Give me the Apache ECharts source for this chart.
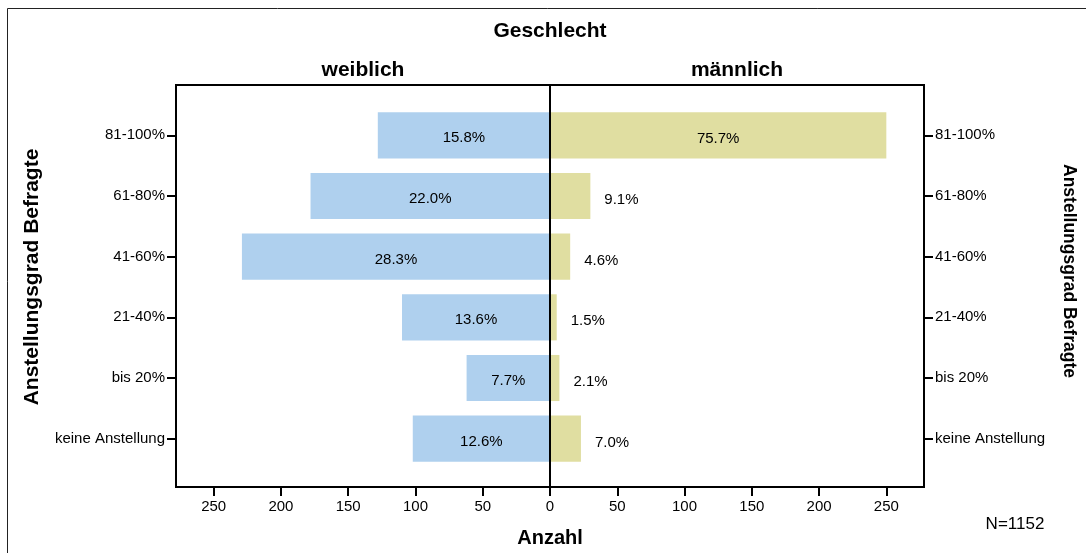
<!DOCTYPE html>
<html>
	<head>
		<meta charset="utf-8" />
		<title>Geschlecht - Anstellungsgrad</title>
		<script src="https://cdn.jsdelivr.net/npm/echarts@6/dist/echarts.min.js"></script>
	</head>
	<body style="margin:0;">
		<div id="main" style="width: 1086px;height:553px;"></div>
		<script type="text/javascript">
			// Daten (von oben nach unten)
			var categories = ['81-100%', '61-80%', '41-60%', '21-40%', 'bis 20%', 'keine Anstellung'];
			var weiblich = [128, 178, 229, 110, 62, 102];
			var maennlich = [250, 30, 15, 5, 7, 23];
			var weiblichPct = ['15.8%', '22.0%', '28.3%', '13.6%', '7.7%', '12.6%'];
			var maennlichPct = ['75.7%', '9.1%', '4.6%', '1.5%', '2.1%', '7.0%'];
			var xTicks = [0, 50, 100, 150, 200, 250];
			var xMax = 278;

			var font = 'Arial, "Liberation Sans", sans-serif';
			var myChart = echarts.init(document.getElementById('main'));

			function yAxisFor(grid, pos) {
				return {
					type: 'category',
					gridIndex: grid,
					position: pos,
					inverse: true,
					data: categories,
					axisLine: { show: true, onZero: false, lineStyle: { color: '#000', width: 2 } },
					axisTick: { show: true, alignWithLabel: true, length: 9, lineStyle: { color: '#000', width: 2 } },
					axisLabel: { margin: 11, padding: [12, 0, 0, 0], color: '#000', fontSize: 15, fontFamily: font }
				};
			}

			function xAxisFor(grid, inverse, labels) {
				return {
					type: 'value',
					gridIndex: grid,
					inverse: inverse,
					min: 0,
					max: xMax,
					offset: 18,
					splitLine: { show: false },
					axisLine: { show: true, onZero: false, lineStyle: { color: '#000', width: 2 } },
					axisTick: { show: true, length: 9, customValues: xTicks, lineStyle: { color: '#000', width: 2 } },
					axisLabel: { margin: 12, color: '#000', fontSize: 15, fontFamily: font, customValues: labels }
				};
			}

			var maennlichData = maennlich.map(function (v) {
				// große Balken: Beschriftung innen, sonst rechts daneben
				return {
					value: v,
					label: v > 100 ? { position: 'inside' } : { position: 'right', distance: 14 }
				};
			});

			var option = {
				backgroundColor: '#fff',
				animation: false,
				grid: [
					{ left: 176, top: 105, width: 374, height: 364 },
					{ left: 550, top: 105, width: 374, height: 364 }
				],
				xAxis: [
					xAxisFor(0, true, xTicks),
					xAxisFor(1, false, xTicks.slice(1))
				],
				yAxis: [
					yAxisFor(0, 'left'),
					yAxisFor(1, 'right')
				],
				series: [
					{
						name: 'weiblich',
						type: 'bar',
						xAxisIndex: 0,
						yAxisIndex: 0,
						barWidth: '76%',
						itemStyle: { color: '#afd0ee' },
						label: {
							show: true,
							position: 'inside',
							offset: [0, 3],
							color: '#000',
							fontSize: 15,
							fontFamily: font,
							formatter: function (p) { return weiblichPct[p.dataIndex]; }
						},
						data: weiblich
					},
					{
						name: 'männlich',
						type: 'bar',
						xAxisIndex: 1,
						yAxisIndex: 1,
						barWidth: '76%',
						itemStyle: { color: '#e0dea1' },
						label: {
							show: true,
							offset: [0, 4],
							color: '#000',
							fontSize: 15,
							fontFamily: font,
							formatter: function (p) { return maennlichPct[p.dataIndex]; }
						},
						data: maennlichData
					}
				],
				graphic: [
					// äußerer Rahmen
					{ type: 'rect', shape: { x: 7.5, y: 8.5, width: 1200, height: 700 }, style: { fill: null, stroke: '#222', lineWidth: 1 }, silent: true },
					// Rahmen Diagrammfläche
					{ type: 'rect', shape: { x: 176, y: 85, width: 748, height: 402 }, style: { fill: null, stroke: '#000', lineWidth: 2 }, silent: true, z: 10 },
					// Mittellinie
					{ type: 'line', shape: { x1: 550, y1: 85, x2: 550, y2: 487 }, style: { stroke: '#000', lineWidth: 2 }, silent: true, z: 10 },
					{ type: 'text', x: 550, y: 31, style: { text: 'Geschlecht', font: 'bold 21px ' + font, fill: '#000', align: 'center', verticalAlign: 'middle' } },
					{ type: 'text', x: 363, y: 70, style: { text: 'weiblich', font: 'bold 21px ' + font, fill: '#000', align: 'center', verticalAlign: 'middle' } },
					{ type: 'text', x: 737, y: 70, style: { text: 'männlich', font: 'bold 21px ' + font, fill: '#000', align: 'center', verticalAlign: 'middle' } },
					{ type: 'text', x: 32, y: 277, rotation: Math.PI / 2, style: { text: 'Anstellungsgrad Befragte', font: 'bold 21px ' + font, fill: '#000', align: 'center', verticalAlign: 'middle' } },
					{ type: 'text', x: 1069, y: 271, rotation: -Math.PI / 2, style: { text: 'Anstellungsgrad Befragte', font: 'bold 17.5px ' + font, fill: '#000', align: 'center', verticalAlign: 'middle' } },
					{ type: 'text', x: 550, y: 538, style: { text: 'Anzahl', font: 'bold 20px ' + font, fill: '#000', align: 'center', verticalAlign: 'middle' } },
					{ type: 'text', x: 1015, y: 524, style: { text: 'N=1152', font: '17px ' + font, fill: '#000', align: 'center', verticalAlign: 'middle' } }
				]
			};
			myChart.setOption(option);
		</script>
	</body>
</html>
